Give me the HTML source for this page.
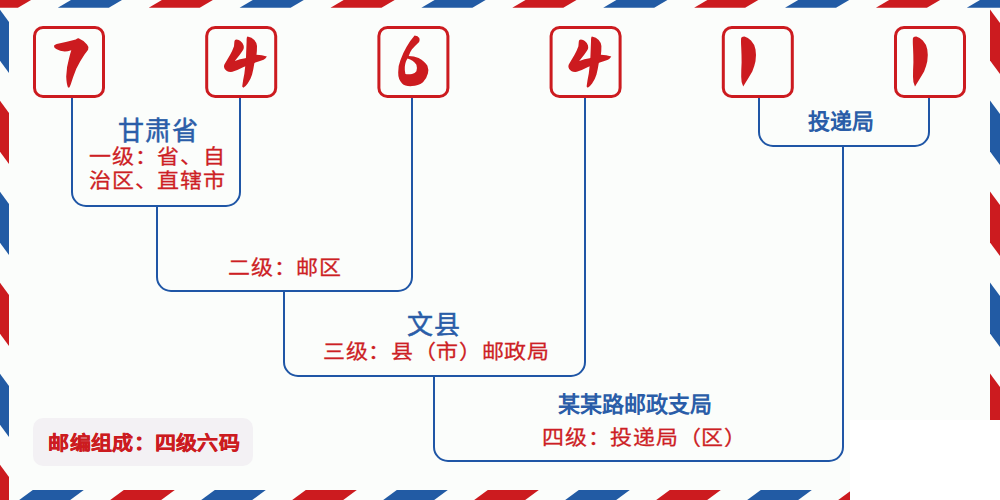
<!DOCTYPE html>
<html lang="zh-CN"><head><meta charset="utf-8">
<style>
html,body{margin:0;padding:0;}
body{width:1000px;height:500px;position:relative;overflow:hidden;background:#ffffff;font-family:"Liberation Sans",sans-serif;}
svg{position:absolute;left:0;top:0;}
.t{position:absolute;white-space:nowrap;text-align:center;line-height:1;}
.blue{color:#2a5da8;font-family:"Liberation Serif",serif;font-weight:400;-webkit-text-stroke:0.5px #2a5da8;}
.red{color:#cd1f25;font-family:"Liberation Sans",sans-serif;-webkit-text-stroke:0.3px #cd1f25;transform:scaleY(0.92);transform-origin:50% 55%;}
.badge{position:absolute;left:33px;top:418px;width:220px;height:48px;border-radius:10px;background:#f3f1f4;}
</style></head><body>
<svg width="1000" height="500" viewBox="0 0 1000 500">
<path fill="#fbfdfb" d="M0,0H1000V420H850V500H0Z"/>
<polygon fill="#cc1b1f" points="-19.9,0 31.1,0 17.9,7.8 -33.1,7.8"/>
<polygon fill="#225ba4" points="71.0,0 122.0,0 108.8,7.8 57.8,7.8"/>
<polygon fill="#cc1b1f" points="161.9,0 212.9,0 199.7,7.8 148.7,7.8"/>
<polygon fill="#225ba4" points="252.8,0 303.8,0 290.6,7.8 239.6,7.8"/>
<polygon fill="#cc1b1f" points="343.7,0 394.7,0 381.5,7.8 330.5,7.8"/>
<polygon fill="#225ba4" points="434.6,0 485.6,0 472.4,7.8 421.4,7.8"/>
<polygon fill="#cc1b1f" points="525.5,0 576.5,0 563.3,7.8 512.3,7.8"/>
<polygon fill="#225ba4" points="616.4,0 667.4,0 654.2,7.8 603.2,7.8"/>
<polygon fill="#cc1b1f" points="707.3,0 758.3,0 745.1,7.8 694.1,7.8"/>
<polygon fill="#225ba4" points="798.2,0 849.2,0 836.0,7.8 785.0,7.8"/>
<polygon fill="#cc1b1f" points="889.1,0 940.1,0 926.9,7.8 875.9,7.8"/>
<polygon fill="#225ba4" points="980.0,0 1031.0,0 1017.8,7.8 966.8,7.8"/>
<polygon fill="#cc1b1f" points="-58.2,490 -7.2,490 -20.8,500 -71.8,500"/>
<polygon fill="#225ba4" points="32.8,490 83.8,490 70.2,500 19.2,500"/>
<polygon fill="#cc1b1f" points="123.8,490 174.8,490 161.2,500 110.2,500"/>
<polygon fill="#225ba4" points="214.8,490 265.8,490 252.2,500 201.2,500"/>
<polygon fill="#cc1b1f" points="305.8,490 356.8,490 343.2,500 292.2,500"/>
<polygon fill="#225ba4" points="396.8,490 447.8,490 434.2,500 383.2,500"/>
<polygon fill="#cc1b1f" points="487.8,490 538.8,490 525.2,500 474.2,500"/>
<polygon fill="#225ba4" points="578.8,490 629.8,490 616.2,500 565.2,500"/>
<polygon fill="#cc1b1f" points="669.8,490 720.8,490 707.2,500 656.2,500"/>
<polygon fill="#225ba4" points="760.8,490 811.8,490 798.2,500 747.2,500"/>
<polygon fill="#cc1b1f" points="851.8,490 902.8,490 889.2,500 838.2,500"/>
<polygon fill="#225ba4" points="0,9.8 9,22.0 9,73.0 0,60.8"/>
<polygon fill="#cc1b1f" points="0,100.8 9,113.0 9,164.0 0,151.8"/>
<polygon fill="#225ba4" points="0,191.8 9,204.0 9,255.0 0,242.8"/>
<polygon fill="#cc1b1f" points="0,282.8 9,295.0 9,346.0 0,333.8"/>
<polygon fill="#225ba4" points="0,373.8 9,386.0 9,437.0 0,424.8"/>
<polygon fill="#cc1b1f" points="0,464.8 9,477.0 9,528.0 0,515.8"/>
<polygon fill="#cc1b1f" points="990,9.5 1000,23.0 1000,74.0 990,60.5"/>
<polygon fill="#225ba4" points="990,100.5 1000,114.0 1000,165.0 990,151.5"/>
<polygon fill="#cc1b1f" points="990,191.5 1000,205.0 1000,256.0 990,242.5"/>
<polygon fill="#225ba4" points="990,282.5 1000,296.0 1000,347.0 990,333.5"/>
<polygon fill="#cc1b1f" points="990,373.5 1000,387.0 1000,438.0 990,424.5"/>
<rect x="850" y="420" width="150" height="80" fill="#ffffff"/>
</svg>
<div class="badge"></div>
<svg width="1000" height="500" viewBox="0 0 1000 500">
<g fill="none" stroke="#cc1b1f" stroke-width="3">
<rect x="34.5" y="27.5" width="69" height="69" rx="8.5"/>
<rect x="206.7" y="27.5" width="69" height="69" rx="8.5"/>
<rect x="378.9" y="27.5" width="69" height="69" rx="8.5"/>
<rect x="551.1" y="27.5" width="69" height="69" rx="8.5"/>
<rect x="723.3" y="27.5" width="69" height="69" rx="8.5"/>
<rect x="895.5" y="27.5" width="69" height="69" rx="8.5"/>
</g>
<g fill="none" stroke="#1f56a6" stroke-width="2">
<path d="M72,98V192A14,14 0 0 0 86,206H226A14,14 0 0 0 240,192V98"/>
<path d="M157,207V277A14,14 0 0 0 171,291H398A14,14 0 0 0 412,277V98"/>
<path d="M284,292V362A14,14 0 0 0 298,376H571A14,14 0 0 0 585,362V98"/>
<path d="M434,377V447A14,14 0 0 0 448,461H829A14,14 0 0 0 843,447V147"/>
<path d="M759,98V132A14,14 0 0 0 773,146H915A14,14 0 0 0 929,132V98"/>
</g>
<g fill="#cc1b1f">
<path id="d7" d="M53.9,45.8 Q55,44.5 56.7,44.1 L66.8,41.8 L75.8,39.6 Q77.5,38.2 78.6,38.3 Q83,40 87,44.6 Q89,46.5 88.1,49.7 Q86.5,52 84.7,54.2 Q80,61 76.3,68.7 Q73,77 70.7,84.4 Q69.5,87.5 69,87.8 L67.9,87.2 Q66.5,84 66.2,76.6 Q66.5,67 69,58.6 Q70,54 71.3,50.2 Q67,51.5 64.6,51.4 Q60,51.3 56.2,49.1 Q54,48 53.9,45.8 Z"/>
<g id="d4">
<path d="M234.4,41.4 Q234.5,39.6 236.5,39.6 Q239,39.8 240.4,41 Q243,43 243.6,45.4 Q244.2,48 243.2,49.8 Q241.5,52.5 239.6,55 L234.8,61 Q240,59 245.2,58.2 L256.5,54.8 Q262,55 266.9,56.4 Q265.5,58.5 263.6,59.7 Q259,61.5 255.4,62.5 Q249,65 243.6,67 Q237,70.5 232.4,71.8 Q229,72.2 226.8,71 Q224.2,69.5 224,67 Q224,65.5 224.4,64.6 Q227,60 230,55 Q232.5,50.5 234,46.2 Z"/>
<path d="M246.6,41.6 Q246.5,37 247.5,36.6 Q252,37.5 254.3,40 Q257,43 257,46 Q257,51 256.5,54.8 L256,58 Q255.5,61 254.3,63.6 Q253.5,69 252.1,74.6 Q250.5,80 247.7,83.4 Q245.5,86.5 243.3,87.7 L242.2,86.6 Q243,80 244.4,73.5 Q245.5,65 246,57 Z"/>
</g>
<use href="#d4" x="344.4"/>
<path fill-rule="evenodd" d="M414.6,35.4 Q418,35.8 419.3,38 Q420.2,40.5 419.1,42.1 Q415,46 412,49.3 Q410,52 408.7,55.9 Q414,56 418.6,58 Q425,61.5 427.4,65.8 Q429,70 427.9,73.5 Q426.5,79 423,82.3 Q418,86 412,86.1 Q405,86.5 402.1,83.4 Q398,79 398.2,72.4 Q398,66 400.4,60.3 Q403,53 406.5,47.1 Q410,40.5 414.6,35.4 Z M407.6,58.6 Q413,60 416.4,64.7 Q417.5,68 416.4,71.3 Q415,73.5 412,74 Q408,74.5 405.4,74 Q404.5,70 404.8,66.9 Q405.5,61 407.6,58.6 Z"/>
<path id="d1" d="M741.2,37.8 Q742.5,36.5 744.5,36.5 Q748,37.5 751,40.4 Q754.5,44 755.5,49.5 Q756.5,55 755.5,61.2 Q754.5,66 752.3,71.6 Q748,79 743.2,86.5 Q741,82 741.2,76.8 Q741.2,70 741.6,62.5 Q741.6,55 741.2,46.9 Q740.8,40 741.2,37.8 Z"/>
<use href="#d1" x="171.8"/>
</g>
</svg>
<div class="t blue" style="left:58.25px;top:118.75px;width:200px;font-size:26px;letter-spacing:1px">甘肃省</div>
<div class="t red" style="left:57.2px;top:142.5px;width:200px;font-size:22px;letter-spacing:0.67px;line-height:25.5px">一级：省、自<br>治区、直辖市</div>
<div class="t red" style="left:185px;top:256.7px;width:200px;font-size:22px;letter-spacing:0.67px">二级：邮区</div>
<div class="t blue" style="left:333.5px;top:312.7px;width:200px;font-size:26px;letter-spacing:1px">文县</div>
<div class="t red" style="left:286.3px;top:341px;width:300px;font-size:22px;letter-spacing:0.67px">三级：县（市）邮政局</div>
<div class="t blue" style="left:740.8px;top:111.2px;width:200px;font-size:22px;font-weight:bold;-webkit-text-stroke:0">投递局</div>
<div class="t blue" style="left:484.9px;top:393.5px;width:300px;font-size:22px;font-weight:bold;-webkit-text-stroke:0">某某路邮政支局</div>
<div class="t red" style="left:494.5px;top:426.5px;width:300px;font-size:22px;letter-spacing:0.67px">四级：投递局（区）</div>
<div class="t" style="left:34.7px;top:432.8px;width:219px;font-size:21px;letter-spacing:0.33px;color:#cc1b1f;font-family:'Liberation Serif',serif;font-weight:bold;-webkit-text-stroke:0.4px #cc1b1f;transform:scaleY(0.94);transform-origin:50% 55%">邮编组成：四级六码</div>
</body></html>
